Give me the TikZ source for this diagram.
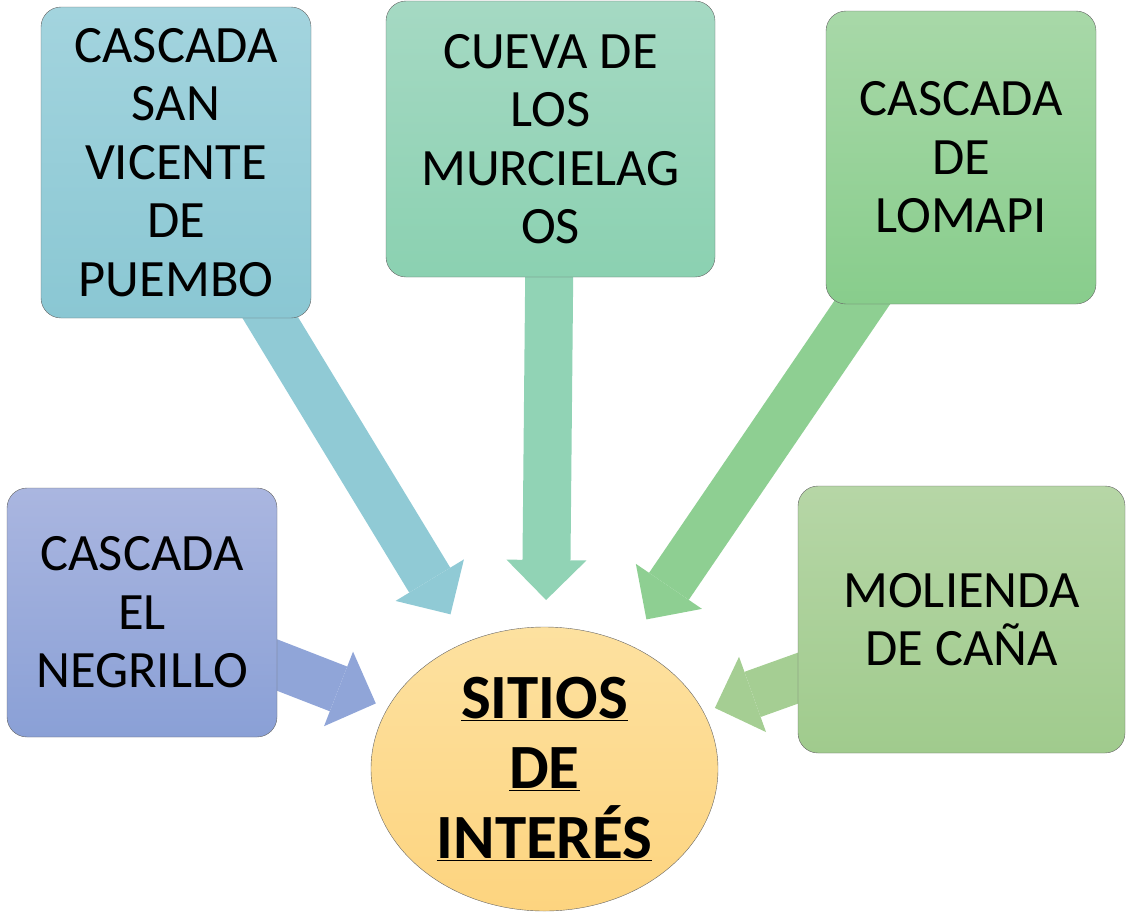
\documentclass[tikz,border=0pt]{standalone}
\usepackage{fontspec}
\setmainfont{Carlito}
\usetikzlibrary{arrows.meta,backgrounds,shapes.geometric}

\definecolor{boxline}{HTML}{666666}
\definecolor{vicenteTop}{HTML}{A3D4DE}
\definecolor{vicenteBot}{HTML}{8AC7D3}
\definecolor{cuevaTop}{HTML}{A5D9C3}
\definecolor{cuevaBot}{HTML}{8BD1B1}
\definecolor{lomapiTop}{HTML}{A8D8A8}
\definecolor{lomapiBot}{HTML}{88CD8C}
\definecolor{negrilloTop}{HTML}{AAB6E0}
\definecolor{negrilloBot}{HTML}{8AA0D6}
\definecolor{moliendaTop}{HTML}{B6D6A6}
\definecolor{moliendaBot}{HTML}{A0CB8D}
\definecolor{sitiosTop}{HTML}{FDE1A0}
\definecolor{sitiosBot}{HTML}{FDD47F}

\begin{document}
\begin{tikzpicture}[x=1pt, y=-1pt,
	sitio/.style = {draw=boxline, rounded corners=20pt, inner sep=0pt, align=center, font=\fontsize{52.5}{58.5}\selectfont},
	bigarrow/.style = {line width=48pt, shorten >=181pt, -{Triangle[width=80pt, length=40pt, line width=0pt]}}]
\useasboundingbox (0,0) rectangle (1127,916);

\node[sitio, minimum width=270pt, minimum height=311pt, top color=vicenteTop, bottom color=vicenteBot]   (vicente)  at (176,162.5) {CASCADA\\SAN\\VICENTE\\DE\\PUEMBO};
\node[sitio, minimum width=329pt, minimum height=276pt, top color=cuevaTop, bottom color=cuevaBot]       (cueva)    at (550.5,139) {CUEVA DE\\LOS\\MURCIELAG\\OS};
\node[sitio, minimum width=270pt, minimum height=293pt, top color=lomapiTop, bottom color=lomapiBot]     (lomapi)   at (961,157.5) {CASCADA\\DE\\LOMAPI};
\node[sitio, minimum width=270pt, minimum height=249pt, top color=negrilloTop, bottom color=negrilloBot] (negrillo) at (142,612.5) {CASCADA\\EL\\NEGRILLO};
\node[sitio, minimum width=327pt, minimum height=267pt, top color=moliendaTop, bottom color=moliendaBot] (molienda) at (961.5,619.5) {MOLIENDA\\DE CAÑA};
\node[ellipse, draw=boxline, inner sep=0pt, minimum width=347pt, minimum height=284pt, top color=sitiosTop, bottom color=sitiosBot,
      align=center, font=\bfseries\fontsize{63}{70}\selectfont] (sitios) at (544.5,769) {\underline{SITIOS}\\\underline{DE}\\\underline{INTERÉS}};

% flechas hacia el centro
\begin{scope}[on background layer]
\draw[bigarrow, color=vicenteBot!95!white]  (vicente.center)  -- (sitios.center);
\draw[bigarrow, color=cuevaBot!95!white, shorten >=169pt] (cueva.center) -- (sitios.center);
\draw[bigarrow, color=lomapiBot!95!white]   (lomapi.center)   -- (sitios.center);
\draw[bigarrow, color=negrilloBot!95!white] (negrillo.center) -- (sitios.center);
\draw[bigarrow, color=moliendaBot!95!white] (molienda.center) -- (sitios.center);
\end{scope}
\end{tikzpicture}
\end{document}
